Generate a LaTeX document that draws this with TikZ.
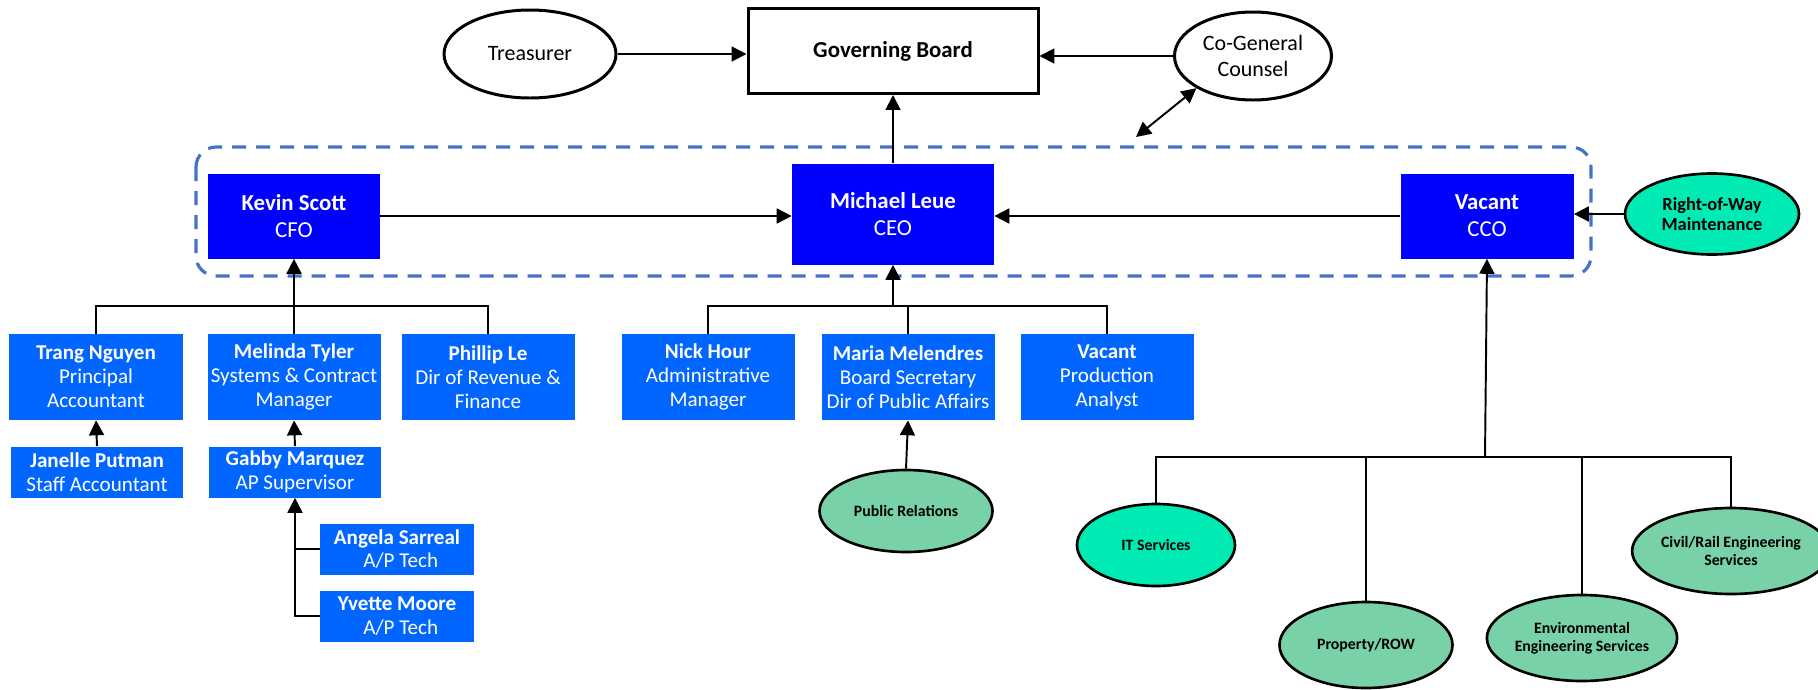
\documentclass[tikz,border=0pt]{standalone}
\usepackage{fontspec}
\setmainfont{Carlito}
\usetikzlibrary{arrows.meta,shapes.geometric}

\definecolor{chiefblue}{RGB}{0,0,255}
\definecolor{staffblue}{RGB}{0,102,255}
\definecolor{aquagreen}{RGB}{0,235,180}
\definecolor{seagreen}{RGB}{120,209,167}
\definecolor{groupblue}{RGB}{68,114,196}

\begin{document}
\begin{tikzpicture}[x=0.2mm, y=-0.2mm,
  link/.style={line width=1.1pt},
  arr/.style={link, -{Triangle[width=8.5pt,length=8.5pt]}},
  oval/.style={ellipse, draw, line width=1.7pt, inner sep=0pt, align=center, minimum height=17.6mm, font=\fontsize{12.5}{14.7}\selectfont},
  chief/.style={fill=chiefblue, text=white, inner sep=0pt, align=center, minimum width=34.4mm, minimum height=17mm, font=\fontsize{13}{15.3}\selectfont},
  staff/.style={fill=staffblue, text=white, inner sep=0pt, align=center, minimum width=34.6mm, minimum height=17.2mm, font=\fontsize{12}{13.6}\selectfont},
  clerk/.style={staff, minimum width=34.4mm, minimum height=10.2mm},
  unit/.style={ellipse, draw, fill=seagreen, line width=1.5pt, inner sep=0pt, align=center, minimum width=34.6mm, minimum height=17.2mm, font=\bfseries\fontsize{9}{10.4}\selectfont}]

  % page frame
  \useasboundingbox (0,0) rectangle (1818,689);

  % top level
  \node[oval, minimum width=34.4mm] (treasurer) at (530,54) {Treasurer};
  \node[draw, line width=1.7pt, inner sep=0pt, minimum width=58mm, minimum height=17mm, font=\bfseries\fontsize{13}{15.3}\selectfont] (board) at (893,51) {Governing Board};
  \node[oval, minimum width=31.4mm] (counsel) at (1253,56) {Co-General\\Counsel};
  \coordinate (gcfree) at (1136,137);

  % executive group
  \draw[groupblue, line width=1.8pt, dash pattern=on 2.8mm off 2mm, rounded corners=4mm] (196,147) rectangle (1591,276);

  \node[chief] (cfo) at (294,216) {\textbf{Kevin Scott}\\CFO};
  \node[chief, minimum width=40.4mm, minimum height=20.2mm] (ceo) at (893,214) {\textbf{Michael Leue}\\CEO};
  \node[chief, minimum width=34.6mm] (cco) at (1487,216) {\textbf{Vacant}\\CCO};
  \node[unit, fill=aquagreen, minimum width=34.8mm, minimum height=16.2mm, font=\bfseries\fontsize{10.5}{11.6}\selectfont] (rowm) at (1712,214) {Right-of-Way\\Maintenance};

  % CFO staff
  \node[staff] (trang) at (96,377) {\textbf{Trang Nguyen}\\Principal\\Accountant};
  \node[staff] (melinda) at (294,377) {\textbf{Melinda Tyler}\\Systems \& Contract\\Manager};
  \node[staff] (phillip) at (488,377) {\textbf{Phillip Le}\\Dir of Revenue \&\\Finance};
  \node[clerk] (janelle) at (97,472) {\textbf{Janelle Putman}\\Staff Accountant};
  \node[clerk] (gabby) at (295,472) {\textbf{Gabby Marquez}\\AP Supervisor};
  \node[clerk, minimum width=30.8mm] (angela) at (397,549) {\textbf{Angela Sarreal}\\\hspace*{1.5mm}A/P Tech};
  \node[clerk, minimum width=30.8mm] (yvette) at (397,616) {\textbf{Yvette Moore}\\\hspace*{1.5mm}A/P Tech};
  \coordinate (cfobus) at (294,306);

  % CEO staff
  \node[staff] (nick) at (708,377) {\textbf{Nick Hour}\\Administrative\\Manager};
  \node[staff] (maria) at (908,377) {\textbf{Maria Melendres}\\Board Secretary\\Dir of Public Affairs};
  \node[staff] (prodan) at (1107,377) {\textbf{Vacant}\\Production\\Analyst};
  \node[unit, minimum height=16.4mm] (pubrel) at (906,511) {Public Relations};
  \coordinate (ceobus) at (893,306);

  % CCO units
  \node[unit, fill=aquagreen, minimum width=31.6mm, minimum height=16.4mm] (itserv) at (1156,545) {IT Services};
  \node[unit] (property) at (1366,645) {Property/ROW};
  \node[unit] (enveng) at (1582,638) {Environmental\\Engineering Services};
  \node[unit] (civil) at (1731,551) {Civil/Rail Engineering\\Services};
  \coordinate (ccobus) at (1485,457);

  % connectors, top
  \draw[arr] (treasurer.east) -- (treasurer.east -| board.west);
  \draw[arr] (counsel.west) -- (counsel.west -| board.east);
  \draw[link, {Triangle[width=8.5pt,length=8.5pt]}-{Triangle[width=8.5pt,length=8.5pt]}] (gcfree) -- (counsel.south west);
  \draw[arr] (ceo.north) -- (board.south);
  \draw[arr] (cfo.east) -- (cfo.east -| ceo.west);
  \draw[arr] (cco.west) -- (cco.west -| ceo.east);
  \draw[arr] (rowm.west) -- (rowm.west -| cco.east);

  % connectors, CFO
  \draw[link] (trang.north) |- (cfobus) -| (phillip.north);
  \draw[link] (melinda.north) -- (cfobus);
  \draw[arr] (cfobus) -- (cfo.south);
  \draw[arr] (janelle.north) -- (trang.south);
  \draw[arr] (gabby.north) -- (melinda.south);
  \draw[arr] (yvette.west) -| (gabby.south);
  \draw[link] (angela.west) -- (angela.west -| gabby.south);

  % connectors, CEO
  \draw[link] (nick.north) |- (ceobus) -| (prodan.north);
  \draw[link] (maria.north) -- (maria.north |- ceobus);
  \draw[arr] (ceobus) -- (ceo.south);
  \draw[arr] (pubrel.north) -- (maria.south);

  % connectors, CCO
  \draw[link] (itserv.north) |- (ccobus) -| (civil.north);
  \draw[link] (property.north) -- (property.north |- ccobus);
  \draw[link] (enveng.north) -- (enveng.north |- ccobus);
  \draw[arr] (ccobus) -- (cco.south);
\end{tikzpicture}
\end{document}
